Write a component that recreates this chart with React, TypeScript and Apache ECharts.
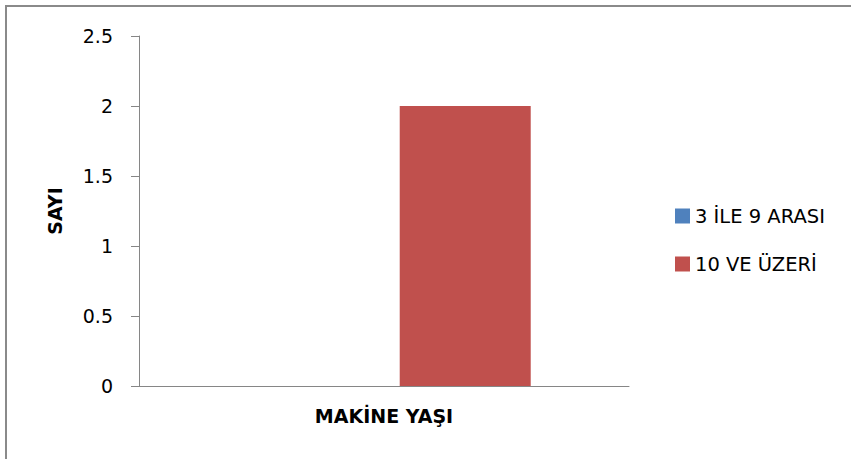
import React, { useEffect, useRef } from "react";
import * as echarts from "echarts";

const categories = ["MAKİNE YAŞI"];
const seriesNames = ["3 İLE 9 ARASI", "10 VE ÜZERİ"];
const series1Values = [0];
const series2Values = [2];
const yAxisName = "SAYI";

const FONT = "DejaVu Sans";

export default function App() {
  const ref = useRef<HTMLDivElement>(null);
  useEffect(() => {
    if (!ref.current) return;
    const chart = echarts.init(ref.current, null, { renderer: "svg" });
    chart.setOption({
      animation: false,
      backgroundColor: "#ffffff",
      graphic: [
        {
          type: "rect",
          shape: { x: 6, y: 6, width: 1000, height: 700 },
          style: { fill: "none", stroke: "#8a8a8a", lineWidth: 2 },
          silent: true,
        },
      ],
      grid: { left: 139, right: 222, top: 36, bottom: 73, containLabel: false },
      legend: {
        orient: "vertical",
        left: 670,
        top: 201,
        itemWidth: 15,
        itemHeight: 15,
        itemGap: 28,
        icon: "rect",
        data: seriesNames,
        textStyle: { fontFamily: FONT, fontSize: 19.5, color: "#000", lineHeight: 20 },
      },
      xAxis: {
        type: "category",
        data: categories,
        axisLine: { lineStyle: { color: "#868686", width: 1 } },
        axisTick: { show: false },
        axisLabel: {
          fontFamily: FONT,
          fontSize: 19,
          fontWeight: "bold",
          color: "#000",
          margin: 20,
          lineHeight: 20,
        },
      },
      yAxis: {
        type: "value",
        min: 0,
        max: 2.5,
        interval: 0.5,
        name: yAxisName,
        nameLocation: "middle",
        nameRotate: 90,
        nameGap: 75,
        nameTextStyle: { fontFamily: FONT, fontSize: 19, fontWeight: "bold", color: "#000" },
        axisLine: { show: true, lineStyle: { color: "#868686", width: 1 } },
        axisTick: { show: true, length: 8, lineStyle: { color: "#868686" } },
        splitLine: { show: false },
        axisLabel: { fontFamily: FONT, fontSize: 19, color: "#000", margin: 26 },
      },
      series: [
        {
          name: seriesNames[0],
          type: "bar",
          data: series1Values,
          barWidth: 131,
          barGap: "24%",
          itemStyle: { color: "#4F81BD" },
        },
        {
          name: seriesNames[1],
          type: "bar",
          data: series2Values,
          barWidth: 131,
          barGap: "24%",
          itemStyle: { color: "#C0504D" },
        },
      ],
    });
    return () => chart.dispose();
  }, []);
  return (
    <div
      ref={ref}
      style={{ position: "fixed", left: 0, top: 0, width: 851, height: 459 }}
    />
  );
}
